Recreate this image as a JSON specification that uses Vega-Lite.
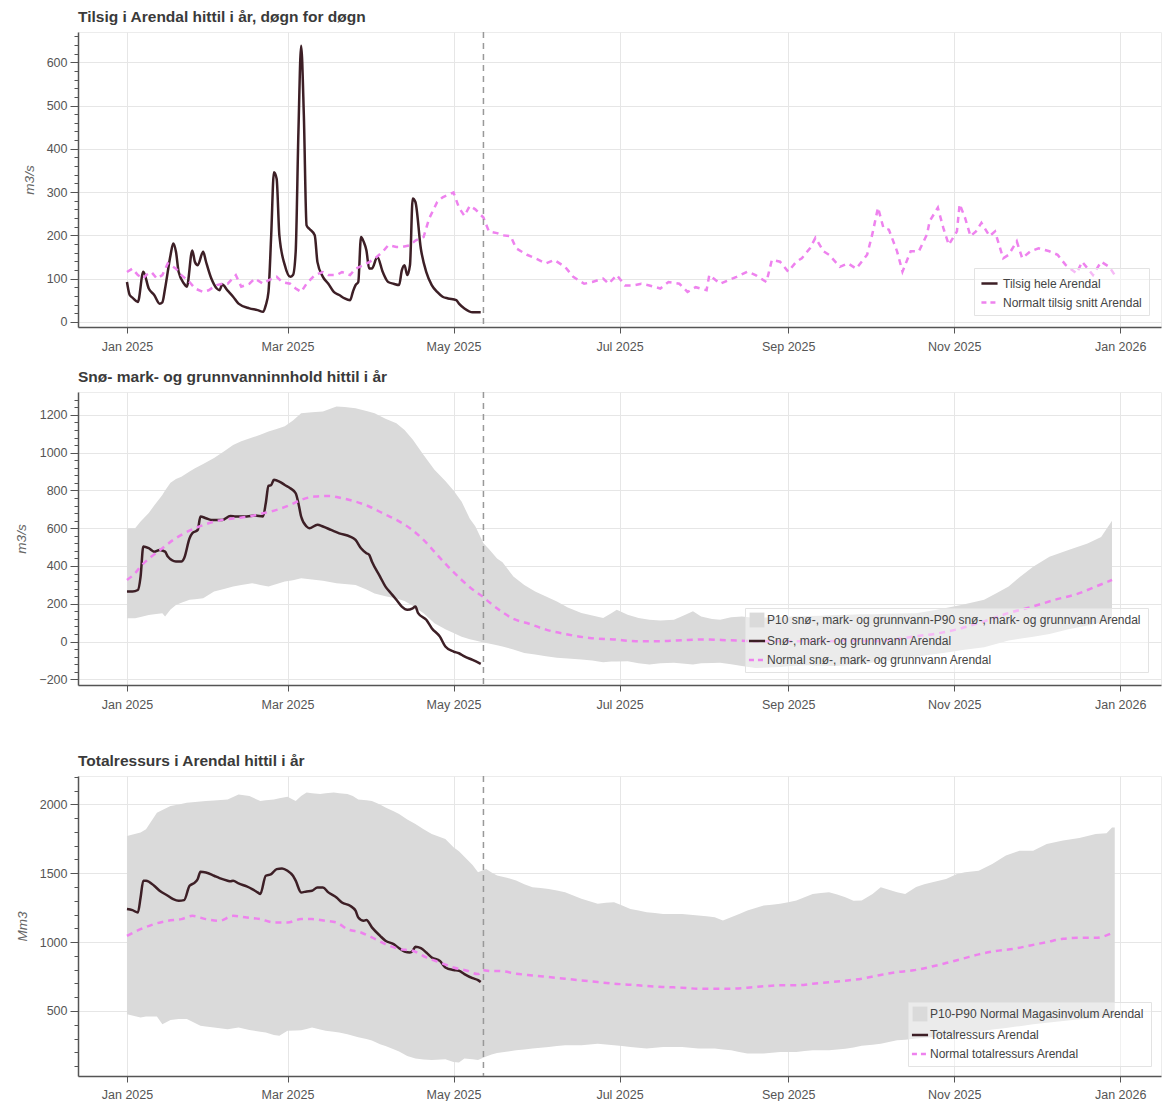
{
"$schema": "https://vega.github.io/schema/vega-lite/v6.json",
"padding": {"left": 14, "top": 9, "right": 2, "bottom": 0},
"spacing": 16,
"config": {
  "font": "Liberation Sans",
  "view": {"stroke": "#ececec"},
  "axis": {"labelFontSize": 12.5, "labelColor": "#555", "labelFont": "Liberation Sans", "gridColor": "#e6e6e6", "gridWidth": 1, "domainColor": "#555", "domainWidth": 1.5, "tickColor": "#555", "tickWidth": 1, "titleFont": "Liberation Sans", "titleFontSize": 13.5, "titleFontStyle": "italic", "titleFontWeight": "normal", "titleColor": "#666"},
  "title": {"anchor": "start", "fontSize": 15.5, "fontWeight": "bold", "color": "#3a3a3a", "offset": 6, "frame": "group", "font": "Liberation Sans"},
  "legend": {"labelFont": "Liberation Sans", "labelFontSize": 12, "labelColor": "#444", "strokeColor": "#e3e3e3", "fillColor": "rgba(255,255,255,0.45)", "padding": 6, "offset": 12, "rowPadding": 4, "symbolSize": 260, "symbolStrokeWidth": 2.5, "labelLimit": 600, "orient": "bottom-right", "symbolType": "stroke"}
},
"datasets": {
  "vline": [{"date": "2025-05-12"}],
  "p1_obs": [
    {"date":"2025-01-01","value":92},{"date":"2025-01-02","value":62},{"date":"2025-01-03","value":56},{"date":"2025-01-05","value":46},{"date":"2025-01-07","value":116},{"date":"2025-01-09","value":77},{"date":"2025-01-11","value":62},{"date":"2025-01-13","value":42},{"date":"2025-01-14","value":45},{"date":"2025-01-15","value":77},{"date":"2025-01-17","value":154},{"date":"2025-01-18","value":181},{"date":"2025-01-19","value":162},{"date":"2025-01-20","value":115},{"date":"2025-01-22","value":88},{"date":"2025-01-23","value":81},{"date":"2025-01-25","value":165},{"date":"2025-01-26","value":138},{"date":"2025-01-27","value":131},{"date":"2025-01-29","value":162},{"date":"2025-01-30","value":140},{"date":"2025-02-01","value":100},{"date":"2025-02-03","value":77},{"date":"2025-02-04","value":73},{"date":"2025-02-05","value":86},{"date":"2025-02-07","value":72},{"date":"2025-02-09","value":58},{"date":"2025-02-11","value":42},{"date":"2025-02-15","value":31},{"date":"2025-02-18","value":27},{"date":"2025-02-20","value":23},{"date":"2025-02-21","value":38},{"date":"2025-02-22","value":69},{"date":"2025-02-23","value":200},{"date":"2025-02-24","value":346},{"date":"2025-02-25","value":331},{"date":"2025-02-26","value":200},{"date":"2025-02-28","value":131},{"date":"2025-03-02","value":104},{"date":"2025-03-03","value":108},{"date":"2025-03-04","value":162},{"date":"2025-03-05","value":438},{"date":"2025-03-06","value":638},{"date":"2025-03-07","value":477},{"date":"2025-03-08","value":223},{"date":"2025-03-09","value":215},{"date":"2025-03-11","value":200},{"date":"2025-03-12","value":138},{"date":"2025-03-14","value":104},{"date":"2025-03-16","value":88},{"date":"2025-03-18","value":69},{"date":"2025-03-20","value":62},{"date":"2025-03-22","value":54},{"date":"2025-03-24","value":50},{"date":"2025-03-25","value":69},{"date":"2025-03-26","value":85},{"date":"2025-03-27","value":92},{"date":"2025-03-28","value":196},{"date":"2025-03-29","value":185},{"date":"2025-03-30","value":165},{"date":"2025-03-31","value":123},{"date":"2025-04-01","value":123},{"date":"2025-04-03","value":150},{"date":"2025-04-05","value":115},{"date":"2025-04-07","value":92},{"date":"2025-04-09","value":88},{"date":"2025-04-11","value":85},{"date":"2025-04-12","value":119},{"date":"2025-04-13","value":131},{"date":"2025-04-14","value":108},{"date":"2025-04-15","value":131},{"date":"2025-04-16","value":285},{"date":"2025-04-17","value":277},{"date":"2025-04-19","value":169},{"date":"2025-04-21","value":115},{"date":"2025-04-23","value":85},{"date":"2025-04-25","value":69},{"date":"2025-04-27","value":58},{"date":"2025-04-29","value":54},{"date":"2025-05-02","value":50},{"date":"2025-05-03","value":42},{"date":"2025-05-05","value":31},{"date":"2025-05-08","value":22},{"date":"2025-05-11","value":22}
  ],
  "p1_norm": [
    {"date":"2025-01-01","value":115},{"date":"2025-01-03","value":123},{"date":"2025-01-05","value":108},{"date":"2025-01-07","value":100},{"date":"2025-01-08","value":108},{"date":"2025-01-10","value":115},{"date":"2025-01-12","value":100},{"date":"2025-01-14","value":108},{"date":"2025-01-16","value":135},{"date":"2025-01-19","value":123},{"date":"2025-01-21","value":108},{"date":"2025-01-24","value":92},{"date":"2025-01-26","value":77},{"date":"2025-01-29","value":69},{"date":"2025-01-31","value":73},{"date":"2025-02-03","value":85},{"date":"2025-02-05","value":88},{"date":"2025-02-07","value":88},{"date":"2025-02-10","value":108},{"date":"2025-02-12","value":81},{"date":"2025-02-15","value":88},{"date":"2025-02-17","value":100},{"date":"2025-02-20","value":88},{"date":"2025-02-22","value":96},{"date":"2025-02-25","value":104},{"date":"2025-02-27","value":92},{"date":"2025-03-02","value":88},{"date":"2025-03-04","value":77},{"date":"2025-03-06","value":69},{"date":"2025-03-08","value":88},{"date":"2025-03-11","value":108},{"date":"2025-03-14","value":115},{"date":"2025-03-16","value":108},{"date":"2025-03-19","value":108},{"date":"2025-03-21","value":115},{"date":"2025-03-24","value":108},{"date":"2025-03-26","value":123},{"date":"2025-03-29","value":131},{"date":"2025-03-31","value":138},{"date":"2025-04-02","value":146},{"date":"2025-04-05","value":162},{"date":"2025-04-07","value":177},{"date":"2025-04-10","value":173},{"date":"2025-04-12","value":173},{"date":"2025-04-15","value":177},{"date":"2025-04-17","value":188},{"date":"2025-04-20","value":196},{"date":"2025-04-22","value":238},{"date":"2025-04-25","value":277},{"date":"2025-04-27","value":288},{"date":"2025-04-30","value":296},{"date":"2025-05-01","value":299},{"date":"2025-05-03","value":264},{"date":"2025-05-05","value":245},{"date":"2025-05-07","value":268},{"date":"2025-05-09","value":260},{"date":"2025-05-12","value":241},{"date":"2025-05-14","value":209},{"date":"2025-05-17","value":205},{"date":"2025-05-19","value":200},{"date":"2025-05-22","value":198},{"date":"2025-05-24","value":170},{"date":"2025-05-28","value":155},{"date":"2025-05-31","value":147},{"date":"2025-06-04","value":135},{"date":"2025-06-07","value":143},{"date":"2025-06-11","value":127},{"date":"2025-06-14","value":104},{"date":"2025-06-18","value":88},{"date":"2025-06-21","value":92},{"date":"2025-06-25","value":100},{"date":"2025-06-27","value":88},{"date":"2025-06-30","value":108},{"date":"2025-07-03","value":84},{"date":"2025-07-06","value":84},{"date":"2025-07-09","value":88},{"date":"2025-07-12","value":84},{"date":"2025-07-16","value":77},{"date":"2025-07-19","value":92},{"date":"2025-07-23","value":88},{"date":"2025-07-26","value":69},{"date":"2025-07-29","value":80},{"date":"2025-08-02","value":73},{"date":"2025-08-03","value":108},{"date":"2025-08-07","value":88},{"date":"2025-08-10","value":96},{"date":"2025-08-13","value":104},{"date":"2025-08-17","value":116},{"date":"2025-08-20","value":108},{"date":"2025-08-24","value":92},{"date":"2025-08-26","value":143},{"date":"2025-08-29","value":139},{"date":"2025-09-01","value":116},{"date":"2025-09-04","value":139},{"date":"2025-09-06","value":147},{"date":"2025-09-09","value":170},{"date":"2025-09-11","value":194},{"date":"2025-09-14","value":163},{"date":"2025-09-16","value":155},{"date":"2025-09-20","value":127},{"date":"2025-09-23","value":135},{"date":"2025-09-26","value":123},{"date":"2025-09-30","value":155},{"date":"2025-10-02","value":205},{"date":"2025-10-04","value":264},{"date":"2025-10-06","value":217},{"date":"2025-10-08","value":213},{"date":"2025-10-11","value":163},{"date":"2025-10-13","value":116},{"date":"2025-10-16","value":163},{"date":"2025-10-19","value":163},{"date":"2025-10-22","value":202},{"date":"2025-10-23","value":233},{"date":"2025-10-26","value":264},{"date":"2025-10-28","value":217},{"date":"2025-10-30","value":178},{"date":"2025-11-02","value":209},{"date":"2025-11-03","value":272},{"date":"2025-11-05","value":240},{"date":"2025-11-07","value":198},{"date":"2025-11-09","value":209},{"date":"2025-11-11","value":229},{"date":"2025-11-14","value":198},{"date":"2025-11-16","value":209},{"date":"2025-11-19","value":147},{"date":"2025-11-21","value":155},{"date":"2025-11-24","value":186},{"date":"2025-11-26","value":147},{"date":"2025-11-29","value":163},{"date":"2025-12-02","value":170},{"date":"2025-12-06","value":163},{"date":"2025-12-09","value":155},{"date":"2025-12-12","value":131},{"date":"2025-12-16","value":112},{"date":"2025-12-18","value":139},{"date":"2025-12-22","value":108},{"date":"2025-12-25","value":139},{"date":"2025-12-28","value":127},{"date":"2025-12-30","value":108}
  ],
  "p2_obs": [
    {"date":"2025-01-01","value":265},{"date":"2025-01-03","value":265},{"date":"2025-01-05","value":273},{"date":"2025-01-06","value":344},{"date":"2025-01-07","value":503},{"date":"2025-01-09","value":494},{"date":"2025-01-11","value":476},{"date":"2025-01-13","value":485},{"date":"2025-01-15","value":476},{"date":"2025-01-16","value":450},{"date":"2025-01-19","value":424},{"date":"2025-01-21","value":424},{"date":"2025-01-22","value":441},{"date":"2025-01-24","value":547},{"date":"2025-01-25","value":573},{"date":"2025-01-27","value":591},{"date":"2025-01-28","value":662},{"date":"2025-01-30","value":653},{"date":"2025-02-01","value":644},{"date":"2025-02-05","value":644},{"date":"2025-02-08","value":665},{"date":"2025-02-10","value":662},{"date":"2025-02-14","value":662},{"date":"2025-02-17","value":667},{"date":"2025-02-20","value":662},{"date":"2025-02-21","value":732},{"date":"2025-02-22","value":824},{"date":"2025-02-23","value":829},{"date":"2025-02-24","value":856},{"date":"2025-02-26","value":847},{"date":"2025-02-28","value":829},{"date":"2025-03-02","value":812},{"date":"2025-03-04","value":785},{"date":"2025-03-05","value":732},{"date":"2025-03-06","value":662},{"date":"2025-03-08","value":609},{"date":"2025-03-09","value":600},{"date":"2025-03-12","value":618},{"date":"2025-03-14","value":609},{"date":"2025-03-17","value":591},{"date":"2025-03-20","value":573},{"date":"2025-03-24","value":556},{"date":"2025-03-26","value":538},{"date":"2025-03-28","value":494},{"date":"2025-03-30","value":468},{"date":"2025-03-31","value":459},{"date":"2025-04-01","value":424},{"date":"2025-04-04","value":344},{"date":"2025-04-06","value":291},{"date":"2025-04-08","value":256},{"date":"2025-04-10","value":221},{"date":"2025-04-12","value":185},{"date":"2025-04-14","value":168},{"date":"2025-04-16","value":176},{"date":"2025-04-17","value":185},{"date":"2025-04-18","value":150},{"date":"2025-04-21","value":115},{"date":"2025-04-23","value":71},{"date":"2025-04-26","value":26},{"date":"2025-04-28","value":-26},{"date":"2025-05-01","value":-53},{"date":"2025-05-03","value":-62},{"date":"2025-05-05","value":-79},{"date":"2025-05-08","value":-97},{"date":"2025-05-11","value":-118}
  ],
  "p2_norm": [
    {"date":"2025-01-01","value":326},{"date":"2025-01-04","value":362},{"date":"2025-01-06","value":397},{"date":"2025-01-10","value":450},{"date":"2025-01-14","value":494},{"date":"2025-01-18","value":538},{"date":"2025-01-21","value":565},{"date":"2025-01-26","value":600},{"date":"2025-01-31","value":626},{"date":"2025-02-05","value":644},{"date":"2025-02-10","value":653},{"date":"2025-02-15","value":662},{"date":"2025-02-20","value":679},{"date":"2025-02-25","value":697},{"date":"2025-03-02","value":723},{"date":"2025-03-06","value":750},{"date":"2025-03-11","value":768},{"date":"2025-03-16","value":771},{"date":"2025-03-21","value":759},{"date":"2025-03-26","value":741},{"date":"2025-03-31","value":715},{"date":"2025-04-05","value":679},{"date":"2025-04-10","value":644},{"date":"2025-04-15","value":600},{"date":"2025-04-20","value":538},{"date":"2025-04-25","value":459},{"date":"2025-04-29","value":397},{"date":"2025-05-04","value":326},{"date":"2025-05-09","value":265},{"date":"2025-05-12","value":235},{"date":"2025-05-14","value":210},{"date":"2025-05-19","value":155},{"date":"2025-05-23","value":120},{"date":"2025-05-28","value":98},{"date":"2025-06-04","value":63},{"date":"2025-06-12","value":37},{"date":"2025-06-20","value":19},{"date":"2025-06-29","value":11},{"date":"2025-07-07","value":2},{"date":"2025-07-16","value":2},{"date":"2025-07-24","value":7},{"date":"2025-08-02","value":11},{"date":"2025-08-10","value":7},{"date":"2025-08-20","value":2},{"date":"2025-08-29","value":2},{"date":"2025-09-06","value":2},{"date":"2025-09-15","value":2},{"date":"2025-09-23","value":5},{"date":"2025-10-02","value":2},{"date":"2025-10-10","value":11},{"date":"2025-10-18","value":28},{"date":"2025-10-27","value":46},{"date":"2025-11-04","value":72},{"date":"2025-11-12","value":107},{"date":"2025-11-21","value":151},{"date":"2025-11-30","value":186},{"date":"2025-12-08","value":221},{"date":"2025-12-17","value":256},{"date":"2025-12-23","value":291},{"date":"2025-12-29","value":326}
  ],
  "p2_band": [
    {"date":"2025-01-01","lo":124,"hi":600},{"date":"2025-01-04","lo":124,"hi":600},{"date":"2025-01-06","lo":130,"hi":635},{"date":"2025-01-09","lo":141,"hi":680},{"date":"2025-01-11","lo":145,"hi":720},{"date":"2025-01-14","lo":150,"hi":776},{"date":"2025-01-15","lo":132,"hi":800},{"date":"2025-01-17","lo":170,"hi":840},{"date":"2025-01-19","lo":194,"hi":860},{"date":"2025-01-21","lo":205,"hi":873},{"date":"2025-01-24","lo":221,"hi":900},{"date":"2025-01-26","lo":224,"hi":918},{"date":"2025-01-29","lo":229,"hi":940},{"date":"2025-02-02","lo":265,"hi":971},{"date":"2025-02-06","lo":280,"hi":1010},{"date":"2025-02-09","lo":291,"hi":1041},{"date":"2025-02-12","lo":300,"hi":1060},{"date":"2025-02-16","lo":309,"hi":1080},{"date":"2025-02-19","lo":300,"hi":1095},{"date":"2025-02-22","lo":291,"hi":1112},{"date":"2025-02-25","lo":305,"hi":1125},{"date":"2025-02-28","lo":318,"hi":1140},{"date":"2025-03-03","lo":325,"hi":1170},{"date":"2025-03-06","lo":335,"hi":1209},{"date":"2025-03-10","lo":328,"hi":1214},{"date":"2025-03-14","lo":322,"hi":1218},{"date":"2025-03-19","lo":309,"hi":1244},{"date":"2025-03-22","lo":305,"hi":1242},{"date":"2025-03-26","lo":300,"hi":1235},{"date":"2025-03-30","lo":275,"hi":1220},{"date":"2025-04-02","lo":255,"hi":1209},{"date":"2025-04-06","lo":240,"hi":1180},{"date":"2025-04-10","lo":228,"hi":1156},{"date":"2025-04-13","lo":215,"hi":1120},{"date":"2025-04-16","lo":190,"hi":1070},{"date":"2025-04-20","lo":150,"hi":988},{"date":"2025-04-24","lo":97,"hi":909},{"date":"2025-04-28","lo":65,"hi":850},{"date":"2025-05-01","lo":45,"hi":800},{"date":"2025-05-04","lo":25,"hi":740},{"date":"2025-05-07","lo":12,"hi":650},{"date":"2025-05-09","lo":5,"hi":610},{"date":"2025-05-12","lo":-5,"hi":520},{"date":"2025-05-14","lo":-10,"hi":490},{"date":"2025-05-17","lo":-20,"hi":440},{"date":"2025-05-19","lo":-26,"hi":420},{"date":"2025-05-23","lo":-42,"hi":344},{"date":"2025-05-27","lo":-60,"hi":300},{"date":"2025-05-31","lo":-68,"hi":265},{"date":"2025-06-04","lo":-78,"hi":239},{"date":"2025-06-08","lo":-86,"hi":212},{"date":"2025-06-12","lo":-90,"hi":180},{"date":"2025-06-17","lo":-95,"hi":151},{"date":"2025-06-21","lo":-100,"hi":138},{"date":"2025-06-25","lo":-109,"hi":125},{"date":"2025-06-28","lo":-105,"hi":150},{"date":"2025-06-30","lo":-106,"hi":168},{"date":"2025-07-04","lo":-104,"hi":142},{"date":"2025-07-08","lo":-115,"hi":125},{"date":"2025-07-12","lo":-121,"hi":116},{"date":"2025-07-16","lo":-115,"hi":112},{"date":"2025-07-21","lo":-112,"hi":116},{"date":"2025-07-25","lo":-118,"hi":140},{"date":"2025-07-28","lo":-121,"hi":160},{"date":"2025-07-31","lo":-115,"hi":133},{"date":"2025-08-04","lo":-114,"hi":120},{"date":"2025-08-07","lo":-112,"hi":116},{"date":"2025-08-11","lo":-120,"hi":128},{"date":"2025-08-15","lo":-130,"hi":133},{"date":"2025-08-20","lo":-140,"hi":125},{"date":"2025-08-25","lo":-138,"hi":128},{"date":"2025-08-29","lo":-135,"hi":130},{"date":"2025-09-03","lo":-128,"hi":132},{"date":"2025-09-08","lo":-125,"hi":135},{"date":"2025-09-13","lo":-128,"hi":137},{"date":"2025-09-18","lo":-130,"hi":140},{"date":"2025-09-23","lo":-125,"hi":142},{"date":"2025-09-28","lo":-120,"hi":145},{"date":"2025-10-03","lo":-108,"hi":145},{"date":"2025-10-08","lo":-100,"hi":147},{"date":"2025-10-13","lo":-90,"hi":148},{"date":"2025-10-18","lo":-80,"hi":150},{"date":"2025-10-23","lo":-70,"hi":162},{"date":"2025-10-28","lo":-60,"hi":175},{"date":"2025-11-04","lo":-45,"hi":195},{"date":"2025-11-12","lo":-30,"hi":221},{"date":"2025-11-17","lo":-10,"hi":260},{"date":"2025-11-21","lo":5,"hi":291},{"date":"2025-11-25","lo":15,"hi":340},{"date":"2025-11-30","lo":25,"hi":396},{"date":"2025-12-06","lo":40,"hi":449},{"date":"2025-12-13","lo":65,"hi":484},{"date":"2025-12-20","lo":85,"hi":519},{"date":"2025-12-25","lo":100,"hi":554},{"date":"2025-12-29","lo":110,"hi":640}
  ],
  "p3_obs": [
    {"date":"2025-01-01","value":1240},{"date":"2025-01-03","value":1232},{"date":"2025-01-05","value":1215},{"date":"2025-01-06","value":1324},{"date":"2025-01-07","value":1446},{"date":"2025-01-08","value":1446},{"date":"2025-01-11","value":1409},{"date":"2025-01-13","value":1373},{"date":"2025-01-16","value":1337},{"date":"2025-01-18","value":1312},{"date":"2025-01-20","value":1300},{"date":"2025-01-22","value":1305},{"date":"2025-01-24","value":1409},{"date":"2025-01-26","value":1433},{"date":"2025-01-27","value":1458},{"date":"2025-01-28","value":1511},{"date":"2025-01-30","value":1506},{"date":"2025-02-02","value":1482},{"date":"2025-02-04","value":1465},{"date":"2025-02-07","value":1446},{"date":"2025-02-08","value":1441},{"date":"2025-02-09","value":1446},{"date":"2025-02-11","value":1426},{"date":"2025-02-14","value":1404},{"date":"2025-02-16","value":1385},{"date":"2025-02-18","value":1361},{"date":"2025-02-19","value":1349},{"date":"2025-02-21","value":1482},{"date":"2025-02-23","value":1494},{"date":"2025-02-25","value":1530},{"date":"2025-02-27","value":1535},{"date":"2025-03-01","value":1518},{"date":"2025-03-03","value":1482},{"date":"2025-03-04","value":1446},{"date":"2025-03-06","value":1361},{"date":"2025-03-08","value":1368},{"date":"2025-03-10","value":1373},{"date":"2025-03-12","value":1397},{"date":"2025-03-14","value":1397},{"date":"2025-03-16","value":1361},{"date":"2025-03-19","value":1324},{"date":"2025-03-21","value":1288},{"date":"2025-03-24","value":1264},{"date":"2025-03-26","value":1228},{"date":"2025-03-27","value":1179},{"date":"2025-03-29","value":1155},{"date":"2025-03-30","value":1160},{"date":"2025-04-01","value":1107},{"date":"2025-04-04","value":1046},{"date":"2025-04-06","value":1010},{"date":"2025-04-09","value":985},{"date":"2025-04-11","value":956},{"date":"2025-04-13","value":932},{"date":"2025-04-15","value":925},{"date":"2025-04-16","value":937},{"date":"2025-04-17","value":966},{"date":"2025-04-19","value":956},{"date":"2025-04-21","value":925},{"date":"2025-04-23","value":889},{"date":"2025-04-26","value":864},{"date":"2025-04-28","value":816},{"date":"2025-05-01","value":797},{"date":"2025-05-03","value":792},{"date":"2025-05-05","value":768},{"date":"2025-05-08","value":738},{"date":"2025-05-10","value":724},{"date":"2025-05-11","value":710}
  ],
  "p3_norm": [
    {"date":"2025-01-01","value":1046},{"date":"2025-01-06","value":1094},{"date":"2025-01-11","value":1131},{"date":"2025-01-16","value":1155},{"date":"2025-01-21","value":1167},{"date":"2025-01-25","value":1191},{"date":"2025-01-30","value":1167},{"date":"2025-02-04","value":1155},{"date":"2025-02-09","value":1191},{"date":"2025-02-14","value":1179},{"date":"2025-02-19","value":1167},{"date":"2025-02-24","value":1143},{"date":"2025-03-01","value":1143},{"date":"2025-03-06","value":1167},{"date":"2025-03-10","value":1167},{"date":"2025-03-15","value":1155},{"date":"2025-03-19","value":1143},{"date":"2025-03-23","value":1094},{"date":"2025-03-28","value":1070},{"date":"2025-04-01","value":1034},{"date":"2025-04-06","value":985},{"date":"2025-04-11","value":950},{"date":"2025-04-16","value":937},{"date":"2025-04-21","value":889},{"date":"2025-04-26","value":852},{"date":"2025-05-01","value":816},{"date":"2025-05-06","value":792},{"date":"2025-05-10","value":768},{"date":"2025-05-12","value":795},{"date":"2025-05-15","value":790},{"date":"2025-05-18","value":790},{"date":"2025-05-24","value":771},{"date":"2025-05-30","value":758},{"date":"2025-06-05","value":746},{"date":"2025-06-11","value":734},{"date":"2025-06-17","value":722},{"date":"2025-06-23","value":710},{"date":"2025-06-29","value":698},{"date":"2025-07-05","value":691},{"date":"2025-07-11","value":681},{"date":"2025-07-18","value":674},{"date":"2025-07-24","value":669},{"date":"2025-07-30","value":662},{"date":"2025-08-05","value":662},{"date":"2025-08-11","value":662},{"date":"2025-08-17","value":669},{"date":"2025-08-23","value":679},{"date":"2025-08-29","value":686},{"date":"2025-09-04","value":686},{"date":"2025-09-10","value":698},{"date":"2025-09-17","value":710},{"date":"2025-09-22","value":720},{"date":"2025-09-28","value":734},{"date":"2025-10-04","value":758},{"date":"2025-10-10","value":780},{"date":"2025-10-17","value":795},{"date":"2025-10-23","value":819},{"date":"2025-10-29","value":848},{"date":"2025-11-04","value":879},{"date":"2025-11-10","value":911},{"date":"2025-11-16","value":935},{"date":"2025-11-23","value":952},{"date":"2025-11-29","value":976},{"date":"2025-12-05","value":1000},{"date":"2025-12-11","value":1024},{"date":"2025-12-17","value":1031},{"date":"2025-12-23","value":1031},{"date":"2025-12-29","value":1065}
  ],
  "p3_band": [
    {"date":"2025-01-01","lo":477,"hi":1771},{"date":"2025-01-06","lo":453,"hi":1795},{"date":"2025-01-08","lo":460,"hi":1819},{"date":"2025-01-12","lo":460,"hi":1940},{"date":"2025-01-14","lo":404,"hi":1960},{"date":"2025-01-17","lo":435,"hi":1988},{"date":"2025-01-20","lo":441,"hi":2000},{"date":"2025-01-23","lo":441,"hi":2012},{"date":"2025-01-28","lo":392,"hi":2020},{"date":"2025-01-30","lo":388,"hi":2024},{"date":"2025-02-02","lo":380,"hi":2028},{"date":"2025-02-07","lo":368,"hi":2036},{"date":"2025-02-11","lo":380,"hi":2072},{"date":"2025-02-15","lo":362,"hi":2060},{"date":"2025-02-19","lo":350,"hi":2024},{"date":"2025-02-21","lo":344,"hi":2030},{"date":"2025-02-24","lo":325,"hi":2036},{"date":"2025-02-26","lo":320,"hi":2045},{"date":"2025-03-01","lo":356,"hi":2055},{"date":"2025-03-04","lo":358,"hi":2024},{"date":"2025-03-06","lo":361,"hi":2060},{"date":"2025-03-08","lo":370,"hi":2087},{"date":"2025-03-10","lo":380,"hi":2080},{"date":"2025-03-13","lo":365,"hi":2075},{"date":"2025-03-15","lo":356,"hi":2080},{"date":"2025-03-18","lo":350,"hi":2087},{"date":"2025-03-20","lo":344,"hi":2080},{"date":"2025-03-23","lo":332,"hi":2075},{"date":"2025-03-25","lo":320,"hi":2060},{"date":"2025-03-27","lo":310,"hi":2036},{"date":"2025-03-30","lo":296,"hi":2030},{"date":"2025-04-01","lo":285,"hi":2024},{"date":"2025-04-04","lo":259,"hi":2000},{"date":"2025-04-06","lo":245,"hi":1978},{"date":"2025-04-09","lo":223,"hi":1950},{"date":"2025-04-11","lo":205,"hi":1930},{"date":"2025-04-14","lo":174,"hi":1890},{"date":"2025-04-17","lo":155,"hi":1858},{"date":"2025-04-20","lo":148,"hi":1820},{"date":"2025-04-23","lo":145,"hi":1785},{"date":"2025-04-28","lo":150,"hi":1749},{"date":"2025-05-01","lo":130,"hi":1688},{"date":"2025-05-03","lo":126,"hi":1660},{"date":"2025-05-05","lo":155,"hi":1620},{"date":"2025-05-08","lo":150,"hi":1560},{"date":"2025-05-10","lo":145,"hi":1507},{"date":"2025-05-13","lo":170,"hi":1530},{"date":"2025-05-15","lo":185,"hi":1505},{"date":"2025-05-17","lo":195,"hi":1483},{"date":"2025-05-21","lo":205,"hi":1465},{"date":"2025-05-24","lo":215,"hi":1447},{"date":"2025-05-27","lo":220,"hi":1420},{"date":"2025-05-30","lo":227,"hi":1399},{"date":"2025-06-02","lo":233,"hi":1392},{"date":"2025-06-05","lo":239,"hi":1386},{"date":"2025-06-08","lo":245,"hi":1375},{"date":"2025-06-11","lo":251,"hi":1362},{"date":"2025-06-14","lo":251,"hi":1338},{"date":"2025-06-17","lo":251,"hi":1314},{"date":"2025-06-20","lo":257,"hi":1296},{"date":"2025-06-23","lo":263,"hi":1278},{"date":"2025-06-26","lo":257,"hi":1285},{"date":"2025-06-29","lo":251,"hi":1290},{"date":"2025-07-02","lo":245,"hi":1265},{"date":"2025-07-05","lo":239,"hi":1241},{"date":"2025-07-08","lo":233,"hi":1229},{"date":"2025-07-11","lo":227,"hi":1217},{"date":"2025-07-14","lo":233,"hi":1211},{"date":"2025-07-17","lo":239,"hi":1205},{"date":"2025-07-21","lo":239,"hi":1205},{"date":"2025-07-24","lo":239,"hi":1205},{"date":"2025-07-27","lo":233,"hi":1199},{"date":"2025-07-30","lo":227,"hi":1193},{"date":"2025-08-02","lo":227,"hi":1187},{"date":"2025-08-05","lo":227,"hi":1181},{"date":"2025-08-08","lo":221,"hi":1157},{"date":"2025-08-11","lo":215,"hi":1181},{"date":"2025-08-14","lo":203,"hi":1205},{"date":"2025-08-17","lo":191,"hi":1229},{"date":"2025-08-20","lo":191,"hi":1248},{"date":"2025-08-23","lo":191,"hi":1266},{"date":"2025-08-26","lo":197,"hi":1272},{"date":"2025-08-29","lo":203,"hi":1278},{"date":"2025-09-01","lo":203,"hi":1290},{"date":"2025-09-04","lo":203,"hi":1302},{"date":"2025-09-07","lo":209,"hi":1326},{"date":"2025-09-10","lo":215,"hi":1350},{"date":"2025-09-13","lo":215,"hi":1356},{"date":"2025-09-16","lo":215,"hi":1362},{"date":"2025-09-19","lo":220,"hi":1345},{"date":"2025-09-22","lo":225,"hi":1326},{"date":"2025-09-25","lo":235,"hi":1300},{"date":"2025-09-28","lo":248,"hi":1302},{"date":"2025-10-02","lo":255,"hi":1350},{"date":"2025-10-05","lo":263,"hi":1399},{"date":"2025-10-08","lo":275,"hi":1380},{"date":"2025-10-11","lo":287,"hi":1362},{"date":"2025-10-14","lo":292,"hi":1350},{"date":"2025-10-18","lo":300,"hi":1400},{"date":"2025-10-21","lo":305,"hi":1420},{"date":"2025-10-24","lo":310,"hi":1435},{"date":"2025-10-29","lo":323,"hi":1459},{"date":"2025-11-02","lo":330,"hi":1495},{"date":"2025-11-05","lo":338,"hi":1507},{"date":"2025-11-10","lo":350,"hi":1519},{"date":"2025-11-15","lo":365,"hi":1568},{"date":"2025-11-20","lo":377,"hi":1628},{"date":"2025-11-25","lo":390,"hi":1664},{"date":"2025-11-30","lo":403,"hi":1664},{"date":"2025-12-05","lo":415,"hi":1712},{"date":"2025-12-11","lo":427,"hi":1737},{"date":"2025-12-17","lo":440,"hi":1756},{"date":"2025-12-23","lo":450,"hi":1785},{"date":"2025-12-27","lo":455,"hi":1790},{"date":"2025-12-29","lo":458,"hi":1833},{"date":"2025-12-30","lo":460,"hi":1833}
  ]
},
"resolve": {"scale": {"color": "independent", "x": "independent", "y": "independent"}, "legend": {"color": "independent"}},
"vconcat": [
  {
    "title": "Tilsig i Arendal hittil i år, døgn for døgn",
    "width": 1083, "height": 295,
    "resolve": {"axis": {"y": "independent"}},
    "layer": [
      {"data": {"name": "p1_obs"}, "mark": {"type": "line", "strokeWidth": 2.5, "interpolate": "monotone"},
       "encoding": {
         "x": {"field": "date", "type": "temporal", "scale": {"domain": [{"year":2024,"month":12,"date":14},{"year":2026,"month":1,"date":16}]},
               "axis": {"values": [{"year":2025,"month":1,"date":1},{"year":2025,"month":3,"date":1},{"year":2025,"month":5,"date":1},{"year":2025,"month":7,"date":1},{"year":2025,"month":9,"date":1},{"year":2025,"month":11,"date":1},{"year":2026,"month":1,"date":1}], "format": "%b %Y", "title": null, "grid": true, "tickSize": 6, "labelPadding": 7}},
         "y": {"field": "value", "type": "quantitative", "scale": {"domain": [-12, 670], "nice": false, "zero": false},
               "axis": {"values": [0,100,200,300,400,500,600], "format": "d", "title": "m3/s", "grid": true, "tickSize": 8, "labelPadding": 3, "titlePadding": 10}},
         "color": {"datum": "Tilsig hele Arendal", "type": "nominal",
           "scale": {"domain": ["Tilsig hele Arendal", "Normalt tilsig snitt Arendal"], "range": ["#3d1f26", "#ee82ee"]},
           "legend": {"title": null, "rowPadding": 3, "encode": {"symbols": {"update": {
              "shape": {"value": "stroke"},
              "fill": {"value": "transparent"},
              "stroke": {"signal": "datum.index === 0 ? '#3d1f26' : '#ee82ee'"},
              "strokeDash": {"signal": "datum.index === 1 ? [5, 4] : [1, 0]"},
              "strokeWidth": {"value": 2.5}}}}}}
       }},
      {"data": {"name": "p1_norm"}, "mark": {"type": "line", "strokeWidth": 2.5, "strokeDash": [6, 5]},
       "encoding": {
         "x": {"field": "date", "type": "temporal"},
         "y": {"field": "value", "type": "quantitative", "axis": {"orient": "left", "values": [20,40,60,80,120,140,160,180,220,240,260,280,320,340,360,380,420,440,460,480,520,540,560,580,620,640,660], "labels": false, "grid": false, "domain": false, "title": null, "tickSize": 4}},
         "color": {"datum": "Normalt tilsig snitt Arendal", "type": "nominal"}
       }},
      {"data": {"name": "vline"}, "mark": {"type": "rule", "color": "#999999", "strokeDash": [6, 5], "strokeWidth": 1.5},
       "encoding": {"x": {"field": "date", "type": "temporal"}}}
    ]
  },
  {
    "title": "Snø- mark- og grunnvanninnhold hittil i år",
    "width": 1083, "height": 293,
    "resolve": {"axis": {"y": "independent"}},
    "layer": [
      {"data": {"name": "p2_band"}, "mark": {"type": "area", "opacity": 1},
       "encoding": {
         "x": {"field": "date", "type": "temporal", "scale": {"domain": [{"year":2024,"month":12,"date":14},{"year":2026,"month":1,"date":16}]},
               "axis": {"values": [{"year":2025,"month":1,"date":1},{"year":2025,"month":3,"date":1},{"year":2025,"month":5,"date":1},{"year":2025,"month":7,"date":1},{"year":2025,"month":9,"date":1},{"year":2025,"month":11,"date":1},{"year":2026,"month":1,"date":1}], "format": "%b %Y", "title": " ", "titleFontSize": 14, "titlePadding": 12, "grid": true, "tickSize": 6, "labelPadding": 7}},
         "y": {"field": "lo", "type": "quantitative", "scale": {"domain": [-230, 1321], "nice": false, "zero": false},
               "axis": {"values": [-200,0,200,400,600,800,1000,1200], "format": "d", "title": "m3/s", "grid": true, "tickSize": 8, "labelPadding": 3, "titlePadding": 10}},
         "y2": {"field": "hi"},
         "color": {"datum": "P10 snø-, mark- og grunnvann-P90 snø-, mark- og grunnvann Arendal", "type": "nominal",
           "scale": {"domain": ["P10 snø-, mark- og grunnvann-P90 snø-, mark- og grunnvann Arendal", "Snø-, mark- og grunnvann Arendal", "Normal snø-, mark- og grunnvann Arendal"], "range": ["#dadada", "#3d1f26", "#ee82ee"]},
           "legend": {"title": null, "symbolType": "stroke", "rowPadding": 7, "offset": 13, "encode": {"symbols": {"update": {
              "shape": {"signal": "datum.index === 0 ? 'square' : 'stroke'"},
              "fill": {"signal": "datum.index === 0 ? '#dadada' : 'transparent'"},
              "stroke": {"signal": "datum.index === 0 ? '#dadada' : datum.index === 1 ? '#3d1f26' : '#ee82ee'"},
              "strokeDash": {"signal": "datum.index === 2 ? [5, 4] : [1, 0]"},
              "strokeWidth": {"signal": "datum.index === 0 ? 0 : 2.5"},
              "size": {"signal": "datum.index === 0 ? 220 : 260"}}}}}}
       }},
      {"data": {"name": "p2_obs"}, "mark": {"type": "line", "strokeWidth": 2.5, "interpolate": "monotone"},
       "encoding": {
         "x": {"field": "date", "type": "temporal"},
         "y": {"field": "value", "type": "quantitative", "axis": null},
         "color": {"datum": "Snø-, mark- og grunnvann Arendal", "type": "nominal",
           "legend": {"title": null, "symbolType": "stroke", "rowPadding": 7, "offset": 13, "encode": {"symbols": {"update": {
              "shape": {"signal": "datum.index === 0 ? 'square' : 'stroke'"},
              "fill": {"signal": "datum.index === 0 ? '#dadada' : 'transparent'"},
              "stroke": {"signal": "datum.index === 0 ? '#dadada' : datum.index === 1 ? '#3d1f26' : '#ee82ee'"},
              "strokeDash": {"signal": "datum.index === 2 ? [5, 4] : [1, 0]"},
              "strokeWidth": {"signal": "datum.index === 0 ? 0 : 2.5"},
              "size": {"signal": "datum.index === 0 ? 220 : 260"}}}}}}
       }},
      {"data": {"name": "p2_norm"}, "mark": {"type": "line", "strokeWidth": 2.5, "strokeDash": [6, 5], "interpolate": "monotone"},
       "encoding": {
         "x": {"field": "date", "type": "temporal"},
         "y": {"field": "value", "type": "quantitative", "axis": {"orient": "left", "values": [-160,-120,-80,-40,40,80,120,160,240,280,320,360,440,480,520,560,640,680,720,760,840,880,920,960,1040,1080,1120,1160,1240,1280], "labels": false, "grid": false, "domain": false, "title": null, "tickSize": 4}},
         "color": {"datum": "Normal snø-, mark- og grunnvann Arendal", "type": "nominal",
           "legend": {"title": null, "symbolType": "stroke", "rowPadding": 7, "offset": 13, "encode": {"symbols": {"update": {
              "shape": {"signal": "datum.index === 0 ? 'square' : 'stroke'"},
              "fill": {"signal": "datum.index === 0 ? '#dadada' : 'transparent'"},
              "stroke": {"signal": "datum.index === 0 ? '#dadada' : datum.index === 1 ? '#3d1f26' : '#ee82ee'"},
              "strokeDash": {"signal": "datum.index === 2 ? [5, 4] : [1, 0]"},
              "strokeWidth": {"signal": "datum.index === 0 ? 0 : 2.5"},
              "size": {"signal": "datum.index === 0 ? 220 : 260"}}}}}}
       }},
      {"data": {"name": "vline"}, "mark": {"type": "rule", "color": "#999999", "strokeDash": [6, 5], "strokeWidth": 1.5},
       "encoding": {"x": {"field": "date", "type": "temporal"}}}
    ]
  },
  {
    "title": "Totalressurs i Arendal hittil i år",
    "width": 1083, "height": 300,
    "resolve": {"axis": {"y": "independent"}},
    "layer": [
      {"data": {"name": "p3_band"}, "mark": {"type": "area", "opacity": 1},
       "encoding": {
         "x": {"field": "date", "type": "temporal", "scale": {"domain": [{"year":2024,"month":12,"date":14},{"year":2026,"month":1,"date":16}]},
               "axis": {"values": [{"year":2025,"month":1,"date":1},{"year":2025,"month":3,"date":1},{"year":2025,"month":5,"date":1},{"year":2025,"month":7,"date":1},{"year":2025,"month":9,"date":1},{"year":2025,"month":11,"date":1},{"year":2026,"month":1,"date":1}], "format": "%b %Y", "title": null, "grid": true, "tickSize": 6, "labelPadding": 6}},
         "y": {"field": "lo", "type": "quantitative", "scale": {"domain": [28, 2206], "nice": false, "zero": false},
               "axis": {"values": [500,1000,1500,2000], "format": "d", "title": "Mm3", "grid": true, "tickSize": 8, "labelPadding": 3, "titlePadding": 10}},
         "y2": {"field": "hi"},
         "color": {"datum": "P10-P90 Normal Magasinvolum Arendal", "type": "nominal",
           "scale": {"domain": ["P10-P90 Normal Magasinvolum Arendal", "Totalressurs Arendal", "Normal totalressurs Arendal"], "range": ["#dadada", "#3d1f26", "#ee82ee"]},
           "legend": {"title": null, "symbolType": "stroke", "rowPadding": 7, "offset": 10, "encode": {"symbols": {"update": {
              "shape": {"signal": "datum.index === 0 ? 'square' : 'stroke'"},
              "fill": {"signal": "datum.index === 0 ? '#dadada' : 'transparent'"},
              "stroke": {"signal": "datum.index === 0 ? '#dadada' : datum.index === 1 ? '#3d1f26' : '#ee82ee'"},
              "strokeDash": {"signal": "datum.index === 2 ? [5, 4] : [1, 0]"},
              "strokeWidth": {"signal": "datum.index === 0 ? 0 : 2.5"},
              "size": {"signal": "datum.index === 0 ? 220 : 260"}}}}}}
       }},
      {"data": {"name": "p3_obs"}, "mark": {"type": "line", "strokeWidth": 2.5, "interpolate": "monotone"},
       "encoding": {
         "x": {"field": "date", "type": "temporal"},
         "y": {"field": "value", "type": "quantitative", "axis": null},
         "color": {"datum": "Totalressurs Arendal", "type": "nominal",
           "legend": {"title": null, "symbolType": "stroke", "rowPadding": 7, "offset": 10, "encode": {"symbols": {"update": {
              "shape": {"signal": "datum.index === 0 ? 'square' : 'stroke'"},
              "fill": {"signal": "datum.index === 0 ? '#dadada' : 'transparent'"},
              "stroke": {"signal": "datum.index === 0 ? '#dadada' : datum.index === 1 ? '#3d1f26' : '#ee82ee'"},
              "strokeDash": {"signal": "datum.index === 2 ? [5, 4] : [1, 0]"},
              "strokeWidth": {"signal": "datum.index === 0 ? 0 : 2.5"},
              "size": {"signal": "datum.index === 0 ? 220 : 260"}}}}}}
       }},
      {"data": {"name": "p3_norm"}, "mark": {"type": "line", "strokeWidth": 2.5, "strokeDash": [6, 5], "interpolate": "monotone"},
       "encoding": {
         "x": {"field": "date", "type": "temporal"},
         "y": {"field": "value", "type": "quantitative", "axis": {"orient": "left", "values": [100,200,300,400,600,700,800,900,1100,1200,1300,1400,1600,1700,1800,1900,2100,2200], "labels": false, "grid": false, "domain": false, "title": null, "tickSize": 4}},
         "color": {"datum": "Normal totalressurs Arendal", "type": "nominal",
           "legend": {"title": null, "symbolType": "stroke", "rowPadding": 7, "offset": 10, "encode": {"symbols": {"update": {
              "shape": {"signal": "datum.index === 0 ? 'square' : 'stroke'"},
              "fill": {"signal": "datum.index === 0 ? '#dadada' : 'transparent'"},
              "stroke": {"signal": "datum.index === 0 ? '#dadada' : datum.index === 1 ? '#3d1f26' : '#ee82ee'"},
              "strokeDash": {"signal": "datum.index === 2 ? [5, 4] : [1, 0]"},
              "strokeWidth": {"signal": "datum.index === 0 ? 0 : 2.5"},
              "size": {"signal": "datum.index === 0 ? 220 : 260"}}}}}}
       }},
      {"data": {"name": "vline"}, "mark": {"type": "rule", "color": "#999999", "strokeDash": [6, 5], "strokeWidth": 1.5},
       "encoding": {"x": {"field": "date", "type": "temporal"}}}
    ]
  }
]
}
